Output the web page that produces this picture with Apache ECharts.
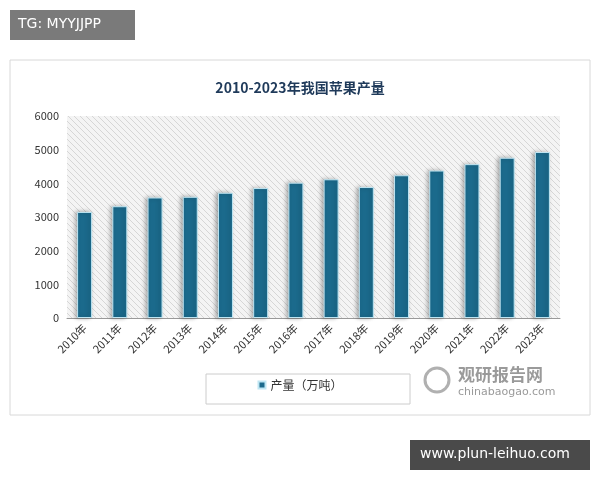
<!DOCTYPE html>
<html><head><meta charset="utf-8">
<script src="https://cdn.jsdelivr.net/npm/echarts@6/dist/echarts.min.js"></script>
<style>html,body{margin:0;padding:0;background:#fff}#c{width:600px;height:480px}</style>
</head><body><div id="c"></div>
<script>
const categories = ['2010年','2011年','2012年','2013年','2014年','2015年','2016年','2017年','2018年','2019年','2020年','2021年','2022年','2023年'];
const production = [3150,3320,3580,3600,3720,3860,4020,4120,3890,4240,4380,4570,4760,4930];
const yTicks = [0,1000,2000,3000,4000,5000,6000];

const pc = document.createElement('canvas'); pc.width = 6; pc.height = 6;
const g = pc.getContext('2d'); g.fillStyle = '#f4f4f4'; g.fillRect(0,0,6,6);
g.strokeStyle = '#d6d6d6'; g.lineWidth = 1;
g.beginPath(); g.moveTo(0,0); g.lineTo(6,6); g.moveTo(-3,3); g.lineTo(3,9); g.moveTo(3,-3); g.lineTo(9,3); g.stroke();

const chart = echarts.init(document.getElementById('c'));
const font = '"Noto Sans CJK SC", sans-serif';
chart.setOption({
  animation: false,
  textStyle: {fontFamily: font},
  title: {text: '2010-2023年我国苹果产量', left: 'center', top: 76,
    textStyle: {fontSize: 14, fontWeight: 'bold', color: '#1f3a5a', fontFamily: font}},
  grid: {left: 67, right: 40, top: 116, bottom: 162, show: true,
    backgroundColor: {image: pc, repeat: 'repeat'}, borderWidth: 0},
  legend: {bottom: 84, left: 'center', itemWidth: 7, itemHeight: 7, icon: 'rect',
    data: ['产量（万吨）'], textStyle: {fontSize: 12, color: '#333'}},
  graphic: [
    {type: 'rect', shape: {x: 10, y: 60, width: 580, height: 355}, style: {fill: 'none', stroke: '#d8d8d8', lineWidth: 1}, z: -1},
    {type: 'rect', shape: {x: 206, y: 374, width: 204, height: 30}, style: {fill: 'none', stroke: '#cccccc', lineWidth: 1}},
    {type: 'rect', shape: {x: 10, y: 10, width: 125, height: 30}, style: {fill: '#7a7a7a'}},
    {type: 'text', x: 18, y: 17, style: {text: 'TG: MYYJJPP', fill: '#fff', fontSize: 14, fontFamily: 'DejaVu Sans'}},
    {type: 'rect', shape: {x: 410, y: 440, width: 180, height: 30}, style: {fill: '#4a4a4a'}},
    {type: 'text', x: 420, y: 447, style: {text: 'www.plun-leihuo.com', fill: '#fff', fontSize: 14, fontFamily: 'DejaVu Sans'}},
    {type: 'text', x: 458, y: 366, style: {text: '观研报告网', fill: '#9a9a9a', fontSize: 17, fontWeight: 'bold', fontFamily: font}},
    {type: 'text', x: 458, y: 387, style: {text: 'chinabaogao.com', fill: '#9a9a9a', fontSize: 11, fontFamily: 'DejaVu Sans'}},
    {type: 'circle', shape: {cx: 437, cy: 380, r: 12}, style: {fill: 'none', stroke: '#b0b0b0', lineWidth: 3}}
  ],
  xAxis: {type: 'category', data: categories,
    axisLine: {lineStyle: {color: '#999'}}, axisTick: {show: false},
    axisLabel: {rotate: 45, color: '#333', fontSize: 11, margin: 8}},
  yAxis: {type: 'value', min: 0, max: 6000, interval: 1000,
    axisLabel: {color: '#333', fontSize: 11, formatter: v => yTicks.includes(v) ? String(v) : ''},
    splitLine: {show: false}, axisLine: {show: false}, axisTick: {show: false}},
  series: [{name: '产量（万吨）', type: 'bar', data: production, barWidth: 15,
    itemStyle: {color: '#1b6a8c', borderColor: '#bfe6f3', borderWidth: 1,
      shadowColor: 'rgba(0,0,0,0.3)', shadowBlur: 4, shadowOffsetX: -2}}]
});
</script></body></html>
